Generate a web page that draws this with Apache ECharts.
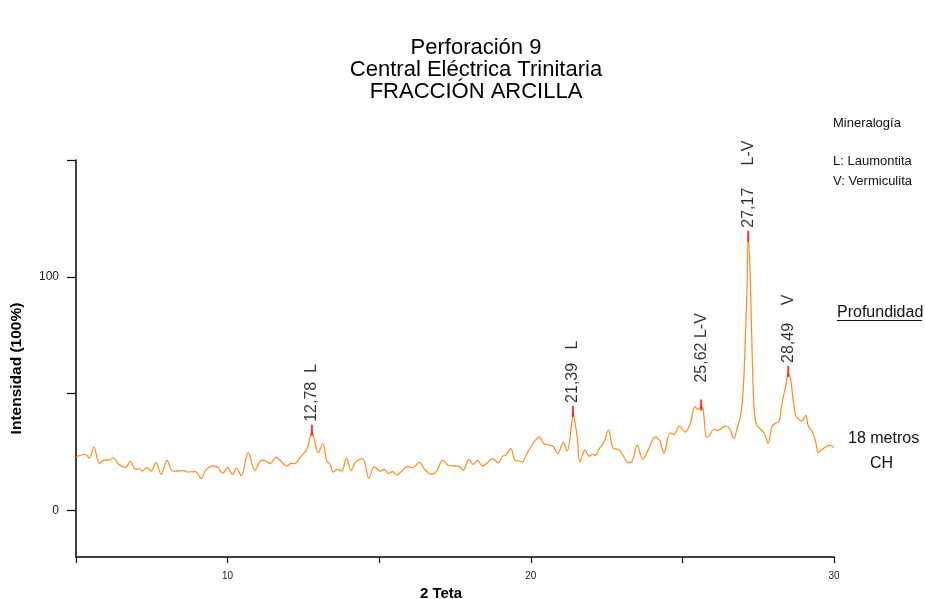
<!DOCTYPE html>
<html><head><meta charset="utf-8">
<script src="https://cdn.jsdelivr.net/npm/echarts@6/dist/echarts.min.js"></script>
<style>html,body{margin:0;padding:0;background:#fff}#c{width:925px;height:599px}</style>
</head><body><div id="c"></div>
<script>
const titleLines = ['Perforación 9', 'Central Eléctrica Trinitaria', 'FRACCIÓN ARCILLA'];
const twoTheta = [5.00,5.31,5.44,5.59,5.77,5.91,6.08,6.23,6.41,6.63,6.79,6.96,7.12,7.18,7.34,7.47,7.64,7.81,8.00,8.19,8.39,8.55,8.66,8.93,9.13,9.28,9.53,9.69,9.84,10.00,10.16,10.30,10.45,10.68,10.90,11.12,11.26,11.40,11.60,11.73,11.95,12.11,12.22,12.39,12.61,12.78,12.99,13.14,13.27,13.38,13.48,13.62,13.76,13.92,14.07,14.23,14.45,14.66,14.84,15.03,15.16,15.30,15.44,15.57,15.74,15.94,16.10,16.32,16.51,16.73,16.90,17.09,17.28,17.63,17.77,17.96,18.10,18.24,18.41,18.55,18.73,18.93,19.07,19.17,19.34,19.48,19.61,19.72,19.86,20.08,20.28,20.43,20.61,20.74,20.89,21.07,21.20,21.34,21.39,21.47,21.54,21.62,21.79,21.93,22.04,22.12,22.28,22.41,22.56,22.72,22.89,23.02,23.22,23.33,23.51,23.69,23.88,24.10,24.26,24.39,24.59,24.72,24.90,25.09,25.25,25.42,25.51,25.62,25.68,25.80,25.89,26.04,26.15,26.35,26.46,26.57,26.70,26.81,26.92,27.00,27.06,27.13,27.17,27.23,27.30,27.36,27.44,27.58,27.69,27.83,27.96,28.10,28.19,28.29,28.41,28.49,28.57,28.65,28.74,28.85,28.93,29.07,29.15,29.28,29.40,29.48,29.61,29.78,29.89,29.98];
const intensity = [22.8,24.0,22.3,27.1,20.1,21.4,21.5,22.4,19.7,18.3,21.0,17.5,17.8,16.8,18.3,16.8,20.4,15.4,21.4,16.8,16.8,17.1,16.4,16.6,13.6,17.2,19.0,18.3,15.8,18.3,15.4,18.0,14.7,24.7,17.1,21.5,21.1,20.0,22.8,21.4,19.0,20.1,20.0,22.6,26.1,33.4,24.7,28.7,21.1,19.7,16.4,17.5,16.8,22.3,17.1,20.8,22.1,13.7,18.7,16.8,17.5,15.7,16.6,15.0,16.7,18.8,18.3,20.5,17.4,15.4,16.8,21.5,19.3,18.8,17.1,21.8,19.7,21.4,19.0,20.1,22.1,20.4,23.2,23.5,26.4,21.4,21.1,20.7,24.0,28.7,31.4,28.5,27.9,27.3,24.3,29.0,25.4,35.9,41.5,36.8,30.4,20.7,25.8,23.2,24.0,23.5,26.8,29.0,34.4,26.5,26.1,24.0,20.4,20.7,27.9,21.8,26.1,31.4,29.7,24.4,33.2,32.5,36.1,33.5,36.8,44.4,43.2,44.2,43.5,31.2,32.0,34.7,34.2,35.6,36.1,34.7,30.8,35.4,40.4,50.4,67.5,96.0,116.5,103.0,67.5,44.6,36.8,34.7,33.2,28.7,36.1,37.5,38.2,46.1,53.2,58.6,56.1,47.5,40.4,38.9,38.2,40.7,36.1,33.9,29.0,24.7,26.1,27.5,27.8,26.8];
const peakPositions = [12.78, 21.39, 25.62, 27.17, 28.49];
const peakIntensity = [33.4, 41.5, 44.2, 116.5, 58.6];
const peakLabels = ['12,78  L', '21,39   L', '25,62 L-V', '27,17     L-V', '28,49    V'];
const yTickValues = [0, 50, 100, 150];
const yLabelValues = [0, 100];
const xLabelValues = [10, 20, 30];

const FONT = '"Liberation Sans", Arial, sans-serif';
const chart = echarts.init(document.getElementById('c'), null, {renderer: 'canvas'});
const lineData = twoTheta.map((x, i) => [x, intensity[i]]);
const peakData = peakPositions.map((x, i) => ({
  value: [x, peakIntensity[i]], name: peakLabels[i],
  label: i === 2 ? {distance: 17} : {}
}));

chart.setOption({
  animation: false,
  backgroundColor: '#fff',
  title: {
    text: titleLines.join('\n'), left: 471, top: 32, textAlign: 'center',
    textStyle: {fontFamily: FONT, fontSize: 22, lineHeight: 22, fontWeight: 'normal', color: '#000'}
  },
  grid: {left: 76, right: 91, top: 160, bottom: 42, outerBoundsMode: 'none', containLabel: false},
  xAxis: {
    type: 'value', min: 5, max: 30, interval: 5,
    name: '2 Teta', nameLocation: 'middle', nameGap: 24,
    nameTextStyle: {fontFamily: FONT, fontSize: 15, fontWeight: 'bold', color: '#000', padding: [0, 28, 0, 0]},
    axisLine: {show: true, onZero: false, lineStyle: {color: '#000', width: 1.5}},
    axisTick: {show: true, length: 6, lineStyle: {color: '#000', width: 1.2}},
    axisLabel: {customValues: xLabelValues, fontFamily: FONT, fontSize: 10, color: '#222', margin: 14},
    splitLine: {show: false}
  },
  yAxis: {
    type: 'value', min: -20, max: 150,
    name: 'Intensidad (100%)', nameLocation: 'middle', nameGap: 51,
    nameTextStyle: {fontFamily: FONT, fontSize: 15.5, fontWeight: 'bold', color: '#000', padding: [0, 20, 0, 0]},
    axisLine: {show: true, onZero: false, lineStyle: {color: '#000', width: 1.5}},
    axisTick: {show: true, customValues: yTickValues, length: 9, lineStyle: {color: '#000', width: 1.2}},
    axisLabel: {customValues: yLabelValues, fontFamily: FONT, fontSize: 12, color: '#222', margin: 17},
    splitLine: {show: false}
  },
  series: [
    {
      type: 'line', data: lineData, smooth: 0.35, showSymbol: false, symbol: 'none',
      lineStyle: {color: '#ff8c1a', width: 1.2}, z: 2
    },
    {
      type: 'scatter', data: peakData, symbol: 'rect', symbolSize: [2, 11], symbolOffset: [0, -2],
      itemStyle: {color: '#ff0000'}, z: 3,
      label: {
        show: true, formatter: p => p.name, position: 'top', distance: 3, rotate: 90,
        align: 'left', verticalAlign: 'middle',
        fontFamily: FONT, fontSize: 16, color: '#000'
      }
    }
  ],
  graphic: [
    {type: 'text', left: 833, top: 117, style: {text: 'Mineralogía', font: '13px ' + FONT, fill: '#111'}},
    {type: 'text', left: 833, top: 155, style: {text: 'L: Laumontita', font: '13px ' + FONT, fill: '#111'}},
    {type: 'text', left: 833, top: 175, style: {text: 'V: Vermiculita', font: '13px ' + FONT, fill: '#111'}},
    {type: 'text', left: 837, top: 305, style: {text: 'Profundidad', font: '16px ' + FONT, fill: '#111'}},
    {type: 'line', shape: {x1: 837, y1: 320.5, x2: 922, y2: 320.5}, style: {stroke: '#111', lineWidth: 1}},
    {type: 'text', left: 848, top: 431, style: {text: '18 metros', font: '16px ' + FONT, fill: '#111'}},
    {type: 'text', left: 870, top: 456, style: {text: 'CH', font: '16px ' + FONT, fill: '#111'}}
  ]
});
</script></body></html>
